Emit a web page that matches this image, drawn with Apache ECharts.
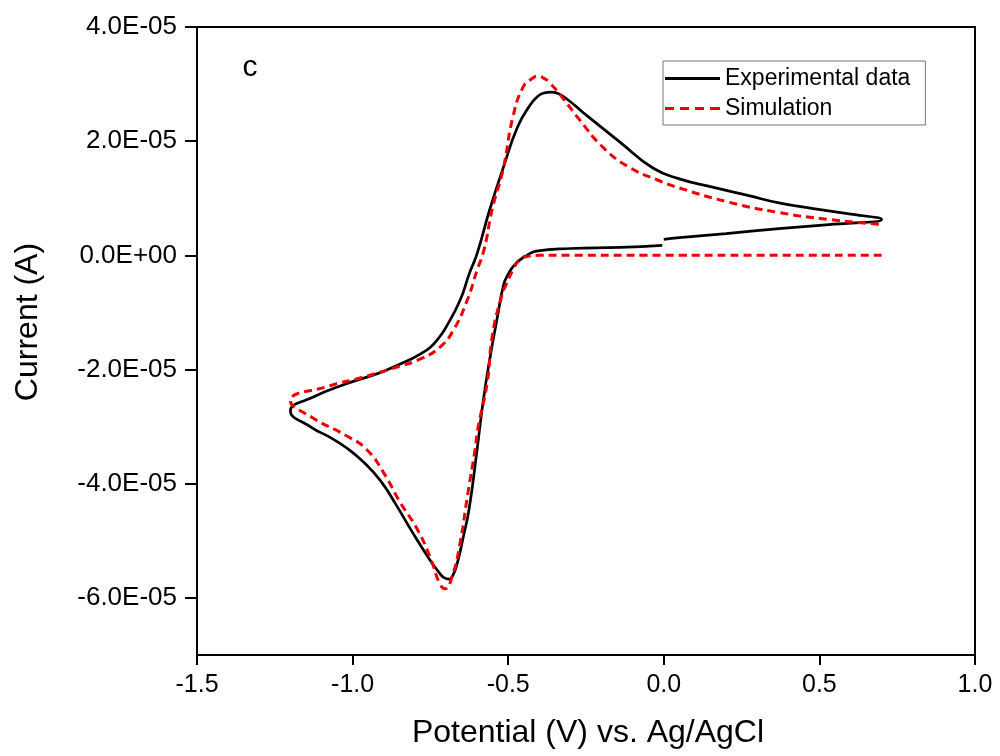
<!DOCTYPE html>
<html><head><meta charset="utf-8">
<script src="https://cdn.jsdelivr.net/npm/echarts@6/dist/echarts.min.js"></script>
<style>html,body{margin:0;padding:0;background:#fff}#c{width:1000px;height:756px}</style>
</head><body><div id="c"></div>
<script>
// Experimental data: scan 0 V -> +0.7 V -> -1.2 V -> 0 V
const expPotential = [
  0.00, 0.05, 0.20, 0.37, 0.53, 0.70,
  0.59, 0.48, 0.37, 0.27, 0.16, 0.05, -0.035, -0.14, -0.25, -0.276, -0.30, -0.334, -0.36, -0.388, -0.408, -0.43, -0.47, -0.515, -0.56, -0.60, -0.625, -0.655, -0.70, -0.725, -0.75, -0.78, -0.81, -0.91, -1.02, -1.13, -1.20,
  -1.13, -1.075, -1.02, -0.965, -0.91, -0.86, -0.81, -0.75, -0.72, -0.705, -0.69, -0.68, -0.665, -0.645, -0.625, -0.60, -0.58, -0.56, -0.535, -0.515, -0.50, -0.485, -0.46, -0.44, -0.41, -0.30, -0.14, -0.005
];
const expCurrent = [
  0.28e-5, 0.31e-5, 0.38e-5, 0.47e-5, 0.54e-5, 0.63e-5,
  0.73e-5, 0.82e-5, 0.92e-5, 1.05e-5, 1.19e-5, 1.34e-5, 1.53e-5, 1.98e-5, 2.46e-5, 2.58e-5, 2.69e-5, 2.82e-5, 2.86e-5, 2.84e-5, 2.77e-5, 2.63e-5, 2.25e-5, 1.55e-5, 0.79e-5, 0.03e-5, -0.32e-5, -0.79e-5, -1.26e-5, -1.46e-5, -1.61e-5, -1.72e-5, -1.81e-5, -2.05e-5, -2.25e-5, -2.49e-5, -2.72e-5,
  -3.02e-5, -3.18e-5, -3.37e-5, -3.62e-5, -3.95e-5, -4.37e-5, -4.83e-5, -5.35e-5, -5.57e-5, -5.65e-5, -5.67e-5, -5.63e-5, -5.42e-5, -4.95e-5, -4.42e-5, -3.40e-5, -2.54e-5, -1.84e-5, -1.09e-5, -0.52e-5, -0.33e-5, -0.20e-5, -0.07e-5, 0.00, 0.075e-5, 0.12e-5, 0.14e-5, 0.175e-5
];
// Simulation
const simPotential = [
  0.70, 0.30, 0.00, -0.30, -0.40, -0.44, -0.462, -0.485, -0.505, -0.52, -0.55, -0.568, -0.597, -0.607, -0.63, -0.655, -0.68, -0.703, -0.72, -0.75, -0.79, -0.85, -0.90, -0.955, -1.02, -1.13, -1.20,
  -1.07, -0.97, -0.86, -0.78, -0.72, -0.677, -0.632, -0.60, -0.578, -0.55, -0.517, -0.485, -0.452, -0.425, -0.404, -0.385, -0.366, -0.324, -0.27, -0.195, -0.11, -0.02, 0.05, 0.21, 0.37, 0.53, 0.70
];
const simCurrent = [
  0, 0, 0, 0, 0, -0.02e-5, -0.06e-5, -0.26e-5, -0.49e-5, -0.70e-5, -1.37e-5, -2.25e-5, -3.02e-5, -3.42e-5, -4.18e-5, -5.05e-5, -5.62e-5, -5.84e-5, -5.75e-5, -5.30e-5, -4.82e-5, -4.30e-5, -3.81e-5, -3.40e-5, -3.16e-5, -2.84e-5, -2.55e-5,
  -2.28e-5, -2.14e-5, -1.96e-5, -1.81e-5, -1.61e-5, -1.32e-5, -0.79e-5, -0.26e-5, 0.09e-5, 0.84e-5, 1.49e-5, 2.42e-5, 2.95e-5, 3.09e-5, 3.14e-5, 3.10e-5, 3.02e-5, 2.75e-5, 2.37e-5, 1.89e-5, 1.54e-5, 1.32e-5, 1.18e-5, 0.93e-5, 0.75e-5, 0.63e-5, 0.54e-5
];
const seriesNames = ['Experimental data', 'Simulation'];
const xTickValues = [-1.5, -1.0, -0.5, 0.0, 0.5, 1.0];
const xTickLabels = ['-1.5', '-1.0', '-0.5', '0.0', '0.5', '1.0'];
const yTickValues = [-6e-5, -4e-5, -2e-5, 0, 2e-5, 4e-5];
const yTickLabels = ['-6.0E-05', '-4.0E-05', '-2.0E-05', '0.0E+00', '2.0E-05', '4.0E-05'];
const xTitle = 'Potential (V) vs. Ag/AgCl';
const yTitle = 'Current (A)';
const panelLabel = 'c';

const FONT = '"Liberation Sans", Arial, sans-serif';
function pairs(xs, ys) { return xs.map((x, i) => [x, ys[i]]); }
function labelFor(vals, labels, v) {
  for (let i = 0; i < vals.length; i++) if (Math.abs(vals[i] - v) < 1e-9) return labels[i];
  return '';
}
const solidIcon = 'path://M0,0h55v3h-55z';
const dashIcon = 'path://M0,0h9v3h-9z M15,0h9v3h-9z M30,0h9v3h-9z M45,0h10v3h-10z';

const chart = echarts.init(document.getElementById('c'), null, { renderer: 'canvas' });
chart.setOption({
  animation: false,
  backgroundColor: '#fff',
  grid: { left: 197, right: 25, top: 27, bottom: 101, show: true, borderColor: '#000', borderWidth: 2, containLabel: false },
  xAxis: {
    type: 'value', min: -1.5, max: 1.0, interval: 0.5,
    axisLine: { show: true, onZero: false, lineStyle: { color: '#000', width: 2 } },
    axisTick: { show: true, inside: false, length: 10, lineStyle: { color: '#000', width: 2 } },
    axisLabel: { margin: 18, color: '#000', fontSize: 25, fontFamily: FONT,
      formatter: v => labelFor(xTickValues, xTickLabels, v) },
    splitLine: { show: false }
  },
  yAxis: {
    type: 'value', min: -7e-5, max: 4e-5,
    axisLine: { show: true, onZero: false, lineStyle: { color: '#000', width: 2 } },
    axisTick: { show: true, inside: false, length: 12, customValues: yTickValues, lineStyle: { color: '#000', width: 2 } },
    axisLabel: { margin: 20, color: '#000', fontSize: 26, fontFamily: FONT, customValues: yTickValues,
      formatter: v => labelFor(yTickValues, yTickLabels, v) },
    splitLine: { show: false }
  },
  legend: {
    left: 663, top: 61, orient: 'vertical',
    itemWidth: 55, itemHeight: 3, itemGap: 7,
    padding: [6, 15, 5, 2],
    borderColor: '#777', borderWidth: 1, borderRadius: 0,
    textStyle: { fontSize: 23, fontFamily: FONT, color: '#000', lineHeight: 22 },
    data: [
      { name: seriesNames[0], icon: solidIcon },
      { name: seriesNames[1], icon: dashIcon }
    ]
  },
  graphic: [
    { type: 'text', x: 28, y: 322, rotation: Math.PI / 2,
      style: { text: yTitle, font: '32px ' + FONT, fill: '#000', textAlign: 'center', textVerticalAlign: 'middle', verticalAlign: 'middle' } },
    { type: 'text', x: 588, y: 733,
      style: { text: xTitle, font: '32px ' + FONT, fill: '#000', textAlign: 'center', textVerticalAlign: 'middle', verticalAlign: 'middle' } },
    { type: 'text', x: 250, y: 68,
      style: { text: panelLabel, font: '30px ' + FONT, fill: '#000', textAlign: 'center', textVerticalAlign: 'middle', verticalAlign: 'middle' } }
  ],
  series: [
    { name: seriesNames[0], type: 'line', data: pairs(expPotential, expCurrent), smooth: 0.5, smoothMonotone: 'none',
      symbol: 'none', showSymbol: false, color: '#000',
      lineStyle: { color: '#000', width: 2.7, type: 'solid' }, z: 3 },
    { name: seriesNames[1], type: 'line', data: pairs(simPotential, simCurrent), smooth: 0.5, smoothMonotone: 'none',
      symbol: 'none', showSymbol: false, color: '#ee0000',
      lineStyle: { color: '#ee0000', width: 3, type: [8, 5] }, z: 4 }
  ]
});
</script>
</body></html>
